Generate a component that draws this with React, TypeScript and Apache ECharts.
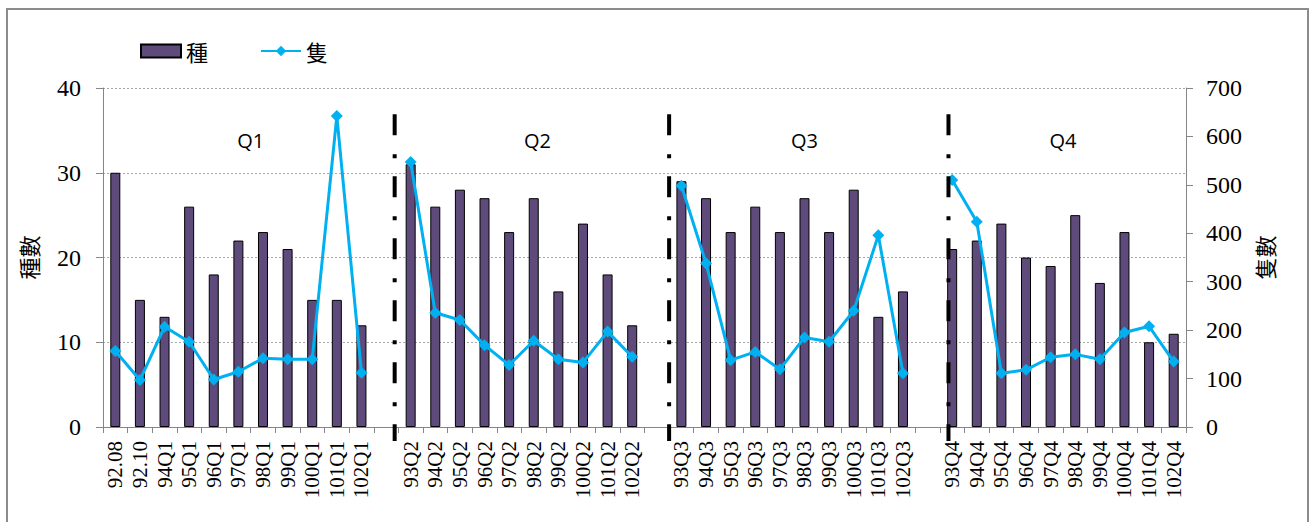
import React, { useEffect, useRef } from 'react';
import * as echarts from 'echarts';

// ---- data ----
const q1Cats = ['92.08', '92.10', '94Q1', '95Q1', '96Q1', '97Q1', '98Q1', '99Q1', '100Q1', '101Q1', '102Q1'];
const q2Cats = ['93Q2', '94Q2', '95Q2', '96Q2', '97Q2', '98Q2', '99Q2', '100Q2', '101Q2', '102Q2'];
const q3Cats = ['93Q3', '94Q3', '95Q3', '96Q3', '97Q3', '98Q3', '99Q3', '100Q3', '101Q3', '102Q3'];
const q4Cats = ['93Q4', '94Q4', '95Q4', '96Q4', '97Q4', '98Q4', '99Q4', '100Q4', '101Q4', '102Q4'];

const q1Species = [30, 15, 13, 26, 18, 22, 23, 21, 15, 15, 12];
const q2Species = [31, 26, 28, 27, 23, 27, 16, 24, 18, 12];
const q3Species = [29, 27, 23, 26, 23, 27, 23, 28, 13, 16];
const q4Species = [21, 22, 24, 20, 19, 25, 17, 23, 10, 11];

const q1Count = [157, 97, 207, 176, 98, 114, 142, 140, 140, 642, 112];
const q2Count = [547, 236, 221, 169, 128, 178, 140, 133, 197, 145];
const q3Count = [498, 338, 138, 155, 119, 185, 176, 240, 396, 111];
const q4Count = [510, 424, 111, 118, 144, 150, 140, 195, 208, 135];

const quarterNames = ['Q1', 'Q2', 'Q3', 'Q4'];
const leftTicks = { min: 0, max: 40, interval: 10 };
const rightTicks = { min: 0, max: 700, interval: 100 };

// annotation anchors (category-index units)
const quarterLabelIdx = [5.5, 17.15, 28.0, 38.5];
const dividerIdx = [11.35, 22.5, 33.85];

const categories = [...q1Cats, ' ', ...q2Cats, '  ', ...q3Cats, '   ', ...q4Cats];
const speciesData = [...q1Species, null, ...q2Species, null, ...q3Species, null, ...q4Species];
const countData = [...q1Count, null, ...q2Count, null, ...q3Count, null, ...q4Count];

const SERIF = 'Liberation Serif';
const CJK = 'Noto Sans CJK TC';
const SANS = 'Open Sans';
const AXIS_GREY = '#868686';

export default function App() {
  const ref = useRef<HTMLDivElement>(null);
  useEffect(() => {
    const chart = echarts.init(ref.current!, null, { renderer: 'svg' });
    chart.setOption({
      animation: false,
      backgroundColor: '#ffffff',
      legend: {
        left: 140,
        top: 40,
        padding: 0,
        itemWidth: 40,
        itemHeight: 13,
        itemGap: 52,
        textStyle: { fontFamily: CJK, fontSize: 22, color: '#000' },
        data: [
          { name: '種', icon: 'rect' },
          { name: '隻' },
        ],
      },
      grid: { left: 103, right: 130, top: 88, bottom: 95 },
      xAxis: {
        type: 'category',
        data: categories,
        axisLine: { lineStyle: { color: AXIS_GREY, width: 1 } },
        axisTick: { show: true, interval: 0, length: 6, lineStyle: { color: AXIS_GREY } },
        axisLabel: {
          interval: 0,
          rotate: 90,
          margin: 14,
          fontFamily: SERIF,
          fontSize: 21,
          color: '#000',
        },
      },
      yAxis: [
        {
          type: 'value',
          ...leftTicks,
          position: 'left',
          name: '種數',
          nameLocation: 'middle',
          nameRotate: 90,
          nameGap: 64,
          nameTextStyle: { fontFamily: CJK, fontSize: 22, color: '#000' },
          axisLine: { show: true, lineStyle: { color: AXIS_GREY } },
          axisTick: { show: true, length: 7, lineStyle: { color: AXIS_GREY } },
          axisLabel: { margin: 22, fontFamily: SERIF, fontSize: 24, color: '#000' },
          splitLine: { show: true, lineStyle: { color: '#A6A6A6', type: [2, 2], width: 1 } },
        },
        {
          type: 'value',
          ...rightTicks,
          position: 'right',
          name: '隻數',
          nameLocation: 'middle',
          nameRotate: 90,
          nameGap: 65,
          nameTextStyle: { fontFamily: CJK, fontSize: 22, color: '#000' },
          axisLine: { show: true, lineStyle: { color: AXIS_GREY } },
          axisTick: { show: true, length: 7, lineStyle: { color: AXIS_GREY } },
          axisLabel: { margin: 20, fontFamily: SERIF, fontSize: 24, color: '#000' },
          splitLine: { show: false },
        },
      ],
      series: [
        {
          name: '種',
          type: 'bar',
          yAxisIndex: 0,
          data: speciesData,
          barWidth: 10,
          itemStyle: { color: '#5F4B7B', borderColor: '#000', borderWidth: 1 },
        },
        {
          name: '隻',
          type: 'line',
          yAxisIndex: 1,
          data: countData,
          connectNulls: false,
          symbol: 'diamond',
          symbolSize: 12,
          lineStyle: { color: '#00B0F0', width: 3 },
          itemStyle: { color: '#00B0F0' },
        },
      ],
    });

    const p0 = chart.convertToPixel({ xAxisIndex: 0 }, 0) as number;
    const p1 = chart.convertToPixel({ xAxisIndex: 0 }, 1) as number;
    const xAt = (f: number) => p0 + f * (p1 - p0);
    const yAt = (v: number) => chart.convertToPixel({ yAxisIndex: 0 }, v) as number;
    const y0 = yAt(0);

    const graphics: any[] = [
      {
        type: 'rect',
        shape: { x: 7, y: 9, width: 1301, height: 530 },
        style: { fill: 'none', stroke: '#8C8C8C', lineWidth: 2 },
        silent: true,
      },
    ];
    dividerIdx.forEach((f) => {
      const x = xAt(f);
      graphics.push({
        type: 'line',
        shape: { x1: x, y1: yAt(36.9), x2: x, y2: y0 + 14 },
        style: { stroke: '#000', lineWidth: 4, lineDash: [21, 19, 4, 18] },
        silent: true,
        z: 10,
      });
    });
    quarterNames.forEach((q, i) => {
      graphics.push({
        type: 'text',
        x: xAt(quarterLabelIdx[i]),
        y: yAt(33.8),
        style: {
          text: q,
          fontFamily: SANS,
          fontSize: 20,
          fill: '#000',
          align: 'center',
          verticalAlign: 'middle',
        },
        silent: true,
      });
    });
    chart.setOption({ graphic: graphics });

    return () => chart.dispose();
  }, []);
  return (
    <div
      ref={ref}
      style={{ position: 'fixed', left: 0, top: 0, width: 1316, height: 522, background: '#fff' }}
    />
  );
}
